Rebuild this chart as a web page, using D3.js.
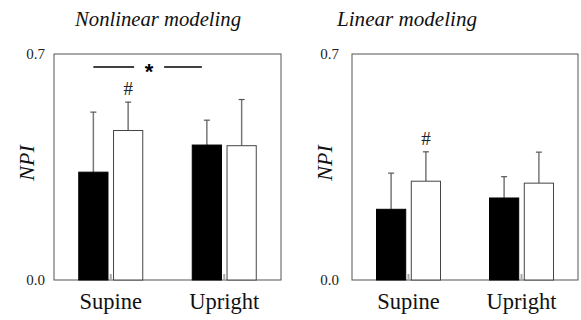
<!DOCTYPE html>
<html>
<head>
<meta charset="utf-8">
<script src="https://cdn.jsdelivr.net/npm/d3@7"></script>
<style>
  body { margin: 0; background: #fff; }
</style>
</head>
<body>
<svg width="581" height="320"></svg>
<script>
// values
var categories = ["Supine", "Upright"];
var series = ["black", "white"];
var yTicks = [0, 0.7];

var nonlinearBlack = [0.334, 0.418];
var nonlinearBlackSd = [0.186, 0.077];
var nonlinearWhite = [0.463, 0.416];
var nonlinearWhiteSd = [0.088, 0.143];

var linearBlack = [0.219, 0.254];
var linearBlackSd = [0.112, 0.066];
var linearWhite = [0.306, 0.300];
var linearWhiteSd = [0.091, 0.096];

var serif = "'Liberation Serif'";
var svg = d3.select("svg");

function drawPanel(opt) {
    var x = d3.scalePoint().domain(categories).range([opt.left, opt.right]).padding(0.5);
    var xs = d3.scaleBand().domain(series).range([-32, 32]).paddingInner(0.16);
    var y = d3.scaleLinear().domain([0, 0.7]).range([280, 54]);

    var g = svg.append("g");

    // frame
    g.append("rect")
        .attr("x", opt.left).attr("y", y(0.7))
        .attr("width", opt.right - opt.left).attr("height", y(0) - y(0.7))
        .attr("fill", "none").attr("stroke", "#555").attr("stroke-width", 1);

    // y axis labels
    var ax = g.append("g")
        .attr("transform", "translate(" + opt.left + ",0)")
        .call(d3.axisLeft(y).tickValues(yTicks).tickFormat(d3.format(".1f"))
            .tickSize(0).tickPadding(opt.tickPad));
    ax.select(".domain").remove();
    ax.attr("font-family", null).attr("font-size", null);
    ax.selectAll("text").style("font-family", serif).style("font-size", "15px").attr("fill", "#222");

    var rows = [];
    categories.forEach(function(c, i) {
        rows.push({cat: c, s: "black", v: opt.black[i], sd: opt.blackSd[i]});
        rows.push({cat: c, s: "white", v: opt.white[i], sd: opt.whiteSd[i]});
    });

    // error bars (drawn first, bar covers the lower part)
    var eb = g.selectAll(".eb").data(rows).enter().append("g");
    eb.append("line")
        .attr("x1", d => x(d.cat) + xs(d.s) + xs.bandwidth() / 2)
        .attr("x2", d => x(d.cat) + xs(d.s) + xs.bandwidth() / 2)
        .attr("y1", d => y(d.v)).attr("y2", d => y(d.v + d.sd))
        .attr("stroke", "#777").attr("stroke-width", 1.5);
    eb.append("line")
        .attr("x1", d => x(d.cat) + xs(d.s) + xs.bandwidth() / 2 - 3)
        .attr("x2", d => x(d.cat) + xs(d.s) + xs.bandwidth() / 2 + 3)
        .attr("y1", d => y(d.v + d.sd)).attr("y2", d => y(d.v + d.sd))
        .attr("stroke", "#555").attr("stroke-width", 1.2);

    g.selectAll(".bar").data(rows).enter().append("rect")
        .attr("x", d => x(d.cat) + xs(d.s))
        .attr("y", d => y(d.v))
        .attr("width", xs.bandwidth())
        .attr("height", d => y(0) - y(d.v))
        .attr("fill", d => d.s == "black" ? "#000" : "#fff")
        .attr("stroke", d => d.s == "black" ? "#000" : "#444")
        .attr("stroke-width", 1);

    // small category ticks on the bottom edge
    g.selectAll(".ctick").data(categories).enter().append("line")
        .attr("x1", d => x(d)).attr("x2", d => x(d))
        .attr("y1", y(0)).attr("y2", y(0) - 6)
        .attr("stroke", "#aaa").attr("stroke-width", 2);

    // category labels
    g.selectAll(".clab").data(categories).enter().append("text")
        .attr("x", d => x(d)).attr("y", 309)
        .attr("text-anchor", "middle").style("font-family", serif).style("font-size", "22.5px")
        .attr("fill", "#111")
        .text(d => d);

    // y title
    g.append("text")
        .attr("transform", "translate(" + opt.yTitleX + ",163) rotate(-90)")
        .attr("text-anchor", "middle").style("font-family", serif).style("font-size", "22px")
        .style("font-style", "italic").attr("fill", "#111")
        .text("NPI");

    // panel title
    g.append("text")
        .attr("x", opt.titleX).attr("y", 26)
        .attr("text-anchor", "middle").style("font-family", serif).style("font-size", "21px")
        .style("font-style", "italic").attr("fill", "#111")
        .attr("textLength", opt.titleLen).attr("lengthAdjust", "spacingAndGlyphs")
        .text(opt.title);

    // # over the supine white bar
    g.append("text")
        .attr("x", x("Supine") + xs("white") + xs.bandwidth() / 2)
        .attr("y", y(opt.white[0] + opt.whiteSd[0]) - 7)
        .attr("text-anchor", "middle").style("font-family", serif).style("font-size", "19px")
        .attr("fill", "#222")
        .text("#");

    return {x: x, xs: xs, y: y, g: g};
}

var p1 = drawPanel({
    left: 54, right: 281, tickPad: 9,
    black: nonlinearBlack, blackSd: nonlinearBlackSd,
    white: nonlinearWhite, whiteSd: nonlinearWhiteSd,
    yTitleX: 34, titleX: 158, titleLen: 166, title: "Nonlinear modeling"
});

drawPanel({
    left: 352, right: 578, tickPad: 13,
    black: linearBlack, blackSd: linearBlackSd,
    white: linearWhite, whiteSd: linearWhiteSd,
    yTitleX: 332, titleX: 407, titleLen: 140, title: "Linear modeling"
});

// significance line between supine and upright (nonlinear)
var sx1 = p1.x("Supine") + p1.xs("black") + p1.xs.bandwidth() / 2;
var sx2 = p1.x("Upright") + p1.xs("black") + p1.xs.bandwidth() / 2;
var sy = p1.y(0.66);
var mid = (sx1 + sx2) / 2;
p1.g.append("line").attr("x1", sx1).attr("x2", mid - 16).attr("y1", sy).attr("y2", sy)
    .attr("stroke", "#000").attr("stroke-width", 1.5);
p1.g.append("line").attr("x1", mid + 14).attr("x2", sx2 - 5).attr("y1", sy).attr("y2", sy)
    .attr("stroke", "#000").attr("stroke-width", 1.5);
p1.g.append("text").attr("x", mid - 1).attr("y", sy + 12)
    .attr("text-anchor", "middle").style("font-family", "'Liberation Sans'")
    .style("font-size", "22px").style("font-weight", "bold")
    .text("*");
</script>
</body>
</html>
